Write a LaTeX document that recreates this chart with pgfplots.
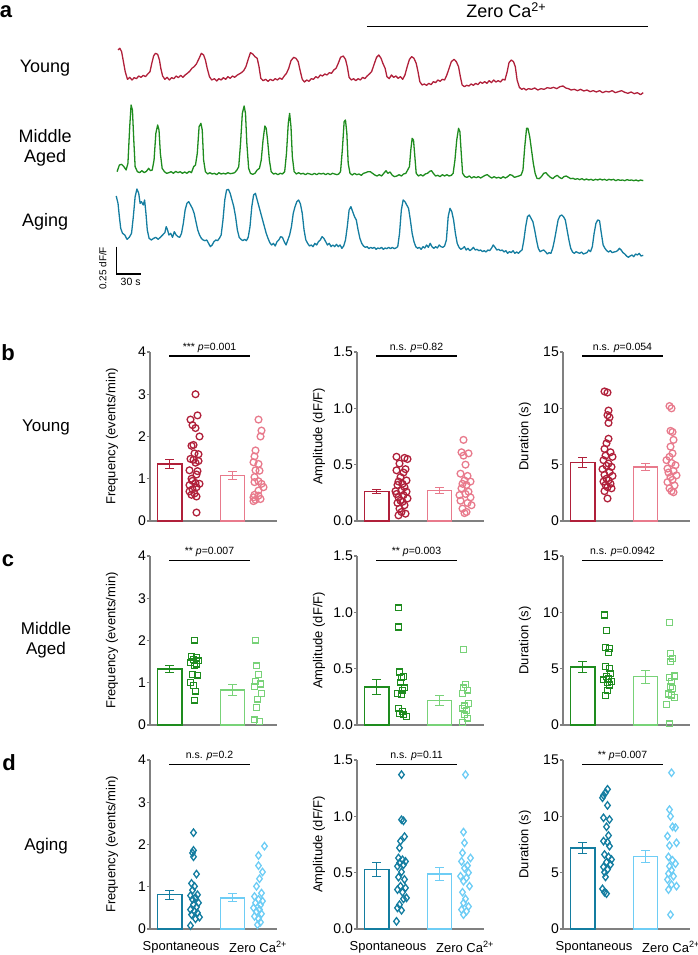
\documentclass[border=0pt]{standalone}
\usepackage{pgfplots}
\pgfplotsset{compat=1.18}
\usepackage{pgfplotstable}
\usepackage{fontspec}
\setmainfont{Liberation Sans}
\setsansfont{Liberation Sans}

\definecolor{ydk}{HTML}{B0203A}
\definecolor{ylt}{HTML}{E87A8C}
\definecolor{mdk}{HTML}{1E8C1E}
\definecolor{mlt}{HTML}{78D278}
\definecolor{adk}{HTML}{147DA0}
\definecolor{alt}{HTML}{6ECDF5}
\definecolor{axgray}{HTML}{808080}

\pgfplotsset{
 bp/.style={scale only axis, width=127pt, height=169pt, anchor=south west,
   xmin=0, xmax=127, ymin=0, clip=false,
   axis x line*=bottom, axis y line*=left,
   axis line style={draw=axgray, line width=1.5pt, -},
   xtick=\empty, tick align=outside, major tick length=3pt,
   ytick style={draw=axgray, line width=1.2pt},
   yticklabel style={font=\fontsize{14}{14}\selectfont, inner sep=1pt},
   every axis y label/.style={at={(axis description cs:0,0.5)}, xshift=-38pt, rotate=90, anchor=center, font=\fontsize{13}{13}\selectfont},
 },
 freq/.style={ymax=4, ytick={0,1,2,3,4}, yticklabels={0,1,2,3,4}, ylabel={Frequency (events/min)}},
 amp/.style={ymax=1.5, ytick={0,0.5,1,1.5}, yticklabels={0.0,0.5,1.0,1.5}, ylabel={Amplitude (dF/F)}},
 dur/.style={ymax=15, ytick={0,5,10,15}, yticklabels={0,5,10,15}, ylabel={Duration (s)}},
 bottomrow/.style={xtick={31,108}, xticklabels={Spontaneous, Zero Ca\textsuperscript{2+}}, xtick style={draw=none}, xticklabel style={font=\fontsize{13}{13}\selectfont, yshift=-6pt}},
 mcirc/.style={mark=o, mark size=3.4pt},
 msq/.style={mark=square, mark size=2.9pt},
 mdia/.style={mark=diamond, mark size=3.7pt},
}

% #1 dark, #2 light, #3 mark style, #4 m1, #5 e1, #6 m2, #7 e2, #8 dark table, #9 light table
\newcommand{\grp}[9]{%
 \addplot[ybar, bar width=24.5, bar shift=0pt, color=#1, draw=#1, fill=white, line width=1.4pt,
   error bars/.cd, y dir=both, y explicit, error mark=|, error bar style={#1, line width=1pt},
   error mark options={#1, mark size=4.5pt, line width=1pt}] coordinates {(19.7,#4) +- (0,#5)};
 \addplot[ybar, bar width=24.5, bar shift=0pt, color=#2, draw=#2, fill=white, line width=1.4pt,
   error bars/.cd, y dir=both, y explicit, error mark=|, error bar style={#2, line width=1pt},
   error mark options={#2, mark size=4.5pt, line width=1pt}] coordinates {(82.5,#6) +- (0,#7)};
 \addplot[only marks, color=#1, #3, mark options={solid, draw=#1, fill=none, line width=1.3pt}]
   table[x expr=\thisrow{o}+44.5, y=v] {#8};
 \addplot[only marks, color=#2, #3, mark options={solid, draw=#2, fill=none, line width=1.3pt}]
   table[x expr=\thisrow{o}+108.5, y=v] {#9};
}
\newcommand{\pann}[3]{%
 \addplot[black, line width=1.1pt] coordinates {(19,#1) (100,#1)};
 \node[anchor=base, inner sep=0pt, yshift=1.5pt, font=\fontsize{10.5}{10.5}\selectfont] at (axis cs:59.5,#2) {#3};
}

% ---------- scatter data (o = horizontal jitter, v = value)
\pgfplotstableread[row sep=\\]{o v\\ 1 3.0\\ 3 2.5\\ -4 2.4\\ -2 2.27\\ 1 2.2\\ 5 2.0\\ -1 1.8\\ -3 1.78\\ 0 1.6\\ 4 1.58\\ -4 1.47\\ -1 1.45\\ 4 1.42\\ 1 1.38\\ -5 1.2\\ 3 1.18\\ 2 1.1\\ -3 1.0\\ -2 0.95\\ 1 0.9\\ 5 0.88\\ -5 0.85\\ 2 0.8\\ -2 0.75\\ -5 0.7\\ 0 0.65\\ -3 0.62\\ 2 0.58\\ 2 0.2\\}\tYFd
\pgfplotstableread[row sep=\\]{o v\\ 0 2.40\\ 3 2.14\\ 2 2.0\\ -3 1.67\\ -4 1.53\\ -5 1.39\\ 0 1.35\\ -3 1.2\\ 1 1.19\\ -4 1.04\\ 0 0.94\\ -4 0.92\\ 3 0.88\\ 5 0.8\\ 0 0.72\\ -4 0.62\\ 0 0.60\\ -5 0.56\\ -3 0.5\\ -5 0.47\\ 2 0.52\\}\tYFl
\pgfplotstableread[row sep=\\]{o v\\ -5 0.57\\ 3 0.56\\ 6 0.55\\ -2 0.51\\ 4 0.46\\ -5 0.45\\ 2 0.43\\ -1 0.39\\ 5 0.36\\ -3 0.35\\ 1 0.33\\ -4 0.32\\ 3 0.30\\ 0 0.27\\ -6 0.265\\ 5 0.26\\ -5 0.24\\ 2 0.23\\ -3 0.21\\ 6 0.20\\ -1 0.18\\ 1 0.17\\ -4 0.16\\ 3 0.14\\ -2 0.11\\ 0 0.08\\ 4 0.065\\ -3 0.05\\}\tYAd
\pgfplotstableread[row sep=\\]{o v\\ -2 0.72\\ -4 0.61\\ 3 0.60\\ -2 0.58\\ 0 0.50\\ -5 0.42\\ 2 0.40\\ -1 0.36\\ 5 0.35\\ -3 0.33\\ 1 0.32\\ -4 0.29\\ 3 0.26\\ 0 0.24\\ -6 0.23\\ 5 0.21\\ -5 0.18\\ 2 0.16\\ 6 0.14\\ -3 0.11\\ 1 0.08\\ -1 0.07\\}\tYAl
\pgfplotstableread[row sep=\\]{o v\\ -3 11.5\\ 0 11.4\\ 1 9.8\\ 0 9.4\\ 2 9.2\\ 1 8.7\\ 1 7.3\\ -1 6.9\\ -3 6.4\\ 3 6.1\\ -2 5.8\\ 5 5.7\\ -4 5.4\\ 1 5.1\\ -1 4.9\\ 4 4.8\\ -5 4.6\\ 2 4.35\\ -3 4.1\\ 5 4.0\\ -1 3.75\\ 1 3.6\\ -4 3.5\\ 3 3.3\\ -2 3.2\\ 0 3.0\\ 4 2.9\\ -3 2.65\\ 0 2.0\\}\tYDd
\pgfplotstableread[row sep=\\]{o v\\ -2 10.2\\ 0 10.0\\ -1 8.0\\ 1 7.9\\ 2 7.2\\ -1 6.6\\ 1 6.0\\ -2 5.7\\ -5 5.4\\ 0 5.15\\ 4 4.95\\ -4 4.65\\ 2 4.45\\ -3 4.3\\ 5 4.05\\ -1 3.9\\ 1 3.65\\ -4 3.45\\ 3 3.15\\ -2 2.9\\ 0 2.65\\ 2 2.55\\}\tYDl

\pgfplotstableread[row sep=\\]{o v\\ 0 2.01\\ -3 1.63\\ 2 1.6\\ -1 1.55\\ 4 1.52\\ -4 1.47\\ 2 1.44\\ 0 1.4\\ -2 1.2\\ 3 1.18\\ -4 1.0\\ -1 0.93\\ 1 0.8\\ 0 0.59\\}\tMFd
\pgfplotstableread[row sep=\\]{o v\\ -3 2.01\\ -2 1.4\\ 0 1.2\\ -3 1.03\\ 2 0.97\\ -4 0.91\\ 3 0.75\\ -1 0.61\\ -2 0.42\\ -4 0.12\\ 1 0.08\\}\tMFl
\pgfplotstableread[row sep=\\]{o v\\ -3 1.04\\ -3 0.87\\ -2 0.47\\ 2 0.43\\ 0 0.42\\ -1 0.38\\ 3 0.33\\ 1 0.31\\ -4 0.28\\ 0 0.27\\ -3 0.15\\ 1 0.12\\ -2 0.10\\ 2 0.09\\ 5 0.075\\}\tMAd
\pgfplotstableread[row sep=\\]{o v\\ -2 0.67\\ 0 0.36\\ -2 0.33\\ 2 0.31\\ -3 0.28\\ 3 0.19\\ -1 0.17\\ -3 0.15\\ 1 0.13\\ -1 0.09\\ 2 0.06\\ -3 0.02\\}\tMAl
\pgfplotstableread[row sep=\\]{o v\\ -3 9.76\\ -1 8.37\\ -2 6.86\\ 2 6.8\\ 1 6.45\\ -2 5.18\\ 2 5.03\\ 3 4.59\\ -1 4.29\\ 1 4.14\\ -4 4.0\\ 4 3.85\\ 0 3.76\\ 2 3.55\\ 0 3.05\\ -2 2.6\\}\tMDd
\pgfplotstableread[row sep=\\]{o v\\ -2 9.1\\ -1 6.36\\ 1 5.9\\ -1 5.6\\ 3 4.35\\ -2 4.23\\ 0 3.85\\ -1 3.4\\ 1 3.25\\ -3 2.75\\ 0 2.66\\ 3 2.45\\ -5 1.83\\ -2 0.1\\}\tMDl

\pgfplotstableread[row sep=\\]{o v\\ -1 2.28\\ -1 1.86\\ -2 1.80\\ -1 1.71\\ 2 1.30\\ -3 1.08\\ 0 1.01\\ -2 0.92\\ 3 0.81\\ -4 0.79\\ 1 0.74\\ -2 0.70\\ 4 0.62\\ -1 0.58\\ 2 0.52\\ -4 0.46\\ 0 0.42\\ 3 0.38\\ -3 0.34\\ 5 0.28\\ 1 0.24\\ -4 0.08\\}\tAFd
\pgfplotstableread[row sep=\\]{o v\\ 6 1.96\\ 0 1.74\\ 0 1.5\\ 4 1.35\\ 1 1.19\\ -2 1.01\\ 3 0.85\\ -4 0.77\\ 0 0.70\\ 4 0.66\\ -3 0.62\\ 2 0.57\\ -5 0.5\\ 1 0.46\\ -2 0.41\\ 3 0.36\\ -4 0.30\\ 0 0.24\\ 2 0.16\\ -1 0.10\\}\tAFl
\pgfplotstableread[row sep=\\]{o v\\ 0 1.37\\ 0 0.97\\ 2 0.96\\ 3 0.82\\ -1 0.78\\ -2 0.72\\ -3 0.63\\ 1 0.615\\ 4 0.6\\ -2 0.587\\ 2 0.57\\ -4 0.557\\ 0 0.507\\ -3 0.46\\ 3 0.44\\ -1 0.38\\ 4 0.365\\ -4 0.35\\ 1 0.326\\ 5 0.276\\ 2 0.267\\ -2 0.216\\ -4 0.187\\ 0 0.166\\ -5 0.068\\}\tAAd
\pgfplotstableread[row sep=\\]{o v\\ 0 1.37\\ -2 0.86\\ -1 0.765\\ -3 0.676\\ 5 0.63\\ -4 0.6\\ 2 0.563\\ -1 0.54\\ 3 0.5\\ -5 0.468\\ 1 0.454\\ -2 0.424\\ 4 0.38\\ -3 0.326\\ 0 0.267\\ -2 0.231\\ 3 0.2\\ -4 0.172\\ 1 0.157\\ -2 0.127\\}\tAAl
\pgfplotstableread[row sep=\\]{o v\\ 0 12.4\\ -2 12.1\\ -4 11.86\\ -5 11.65\\ 0 10.97\\ -4 9.87\\ 2 9.72\\ -1 9.07\\ 1 8.3\\ -4 7.8\\ 0 7.7\\ 2 7.35\\ -3 6.61\\ 1 6.4\\ 4 6.17\\ -1 5.93\\ 3 5.72\\ -4 5.51\\ 0 5.28\\ -3 5.04\\ -2 4.62\\ -5 3.56\\ -3 3.26\\ -1 3.14\\}\tADd
\pgfplotstableread[row sep=\\]{o v\\ 0 13.87\\ -2 10.6\\ -1 10.0\\ 1 9.07\\ 4 9.0\\ -4 8.24\\ 5 7.65\\ -2 7.4\\ -3 6.4\\ 1 6.1\\ 4 5.8\\ -2 5.57\\ 0 5.22\\ -3 4.92\\ 2 4.68\\ -4 4.39\\ 0 3.94\\ 5 3.8\\ -3 3.5\\ -1 1.27\\}\tADl

\begin{document}
\begin{tikzpicture}
\useasboundingbox (0,0) rectangle (698pt,955pt);

% ---------------- panel a: traces
\begin{axis}[at={(0pt,655pt)}, anchor=south west, scale only axis, width=698pt, height=300pt,
  xmin=0, xmax=1549.6, ymin=0, ymax=900, y dir=reverse, hide axis, clip=false]
\addplot[color=ydk, line width=1.3pt, line join=round] coordinates {(262,150)(266,145)(270,155)(274,185)(278,215)(283,238)(288,232)(293,240)(298,233)(303,236)(308,228)(313,232)(318,226)(323,230)(328,222)(333,215)(337,190)(341,168)(345,160)(350,163)(354,180)(357,205)(361,228)(366,238)(371,232)(376,240)(381,233)(386,236)(391,228)(396,233)(401,226)(406,232)(411,225)(416,220)(421,214)(426,205)(431,200)(436,192)(441,178)(447,160)(452,165)(456,180)(460,205)(465,230)(470,240)(476,236)(481,243)(486,236)(491,240)(496,233)(501,238)(506,230)(511,235)(516,228)(521,232)(526,226)(531,222)(536,218)(541,212)(546,200)(551,178)(556,158)(561,162)(566,170)(571,175)(575,200)(579,235)(584,242)(590,238)(595,244)(600,238)(606,242)(611,236)(616,240)(621,234)(626,238)(631,228)(636,220)(641,205)(646,182)(652,172)(657,175)(662,185)(666,210)(671,238)(676,246)(681,240)(686,244)(691,236)(696,238)(701,230)(706,234)(711,225)(716,228)(721,222)(726,225)(731,218)(736,220)(741,210)(746,205)(751,190)(756,172)(762,168)(767,178)(771,200)(775,232)(780,240)(785,236)(790,242)(795,236)(800,240)(805,232)(810,236)(815,228)(820,222)(825,215)(830,195)(836,172)(841,165)(846,175)(850,190)(855,205)(859,230)(864,236)(869,225)(874,232)(879,228)(884,235)(889,230)(894,238)(899,225)(904,200)(909,178)(914,170)(919,175)(924,190)(928,215)(932,245)(937,255)(942,252)(947,256)(952,250)(957,254)(962,245)(967,248)(972,240)(977,244)(982,238)(987,240)(992,225)(997,205)(1002,185)(1008,178)(1013,185)(1018,200)(1022,230)(1026,255)(1031,260)(1036,256)(1041,258)(1046,252)(1051,256)(1056,250)(1061,254)(1066,246)(1071,250)(1076,245)(1081,250)(1086,242)(1091,248)(1096,240)(1101,246)(1106,242)(1111,246)(1116,238)(1121,240)(1126,215)(1130,188)(1135,180)(1140,185)(1144,200)(1148,240)(1153,262)(1158,268)(1163,265)(1168,270)(1173,266)(1180,268)(1187,264)(1194,270)(1201,266)(1208,268)(1215,263)(1222,265)(1229,262)(1236,266)(1243,260)(1250,258)(1256,264)(1262,266)(1268,270)(1275,268)(1282,272)(1289,268)(1296,273)(1303,270)(1310,275)(1317,272)(1324,276)(1331,272)(1338,278)(1345,274)(1352,276)(1359,272)(1366,278)(1373,275)(1380,272)(1387,277)(1394,280)(1401,276)(1408,281)(1415,278)(1422,284)(1428,278)};
\addplot[color=mdk, line width=1.3pt, line join=round] coordinates {(260,515)(265,495)(270,493)(275,500)(280,510)(284,490)(288,380)(291,315)(294,330)(297,420)(300,500)(305,515)(310,518)(315,512)(320,518)(325,514)(330,505)(334,512)(338,510)(342,480)(346,400)(350,375)(353,390)(356,460)(360,505)(365,515)(370,520)(375,518)(380,515)(385,520)(390,514)(395,518)(400,515)(405,520)(410,516)(415,520)(420,514)(425,518)(430,500)(434,495)(438,460)(442,380)(446,370)(449,390)(452,480)(456,515)(461,522)(466,518)(471,522)(476,520)(481,524)(486,518)(491,522)(496,520)(501,522)(506,518)(511,521)(516,520)(521,518)(526,510)(530,500)(534,430)(538,340)(542,318)(545,340)(548,430)(552,505)(556,520)(561,523)(566,520)(571,510)(576,505)(580,480)(584,420)(588,378)(591,385)(594,420)(598,480)(602,515)(607,522)(612,520)(617,524)(622,520)(627,522)(632,515)(636,460)(640,370)(643,340)(646,380)(649,470)(653,515)(658,522)(663,518)(668,522)(673,520)(678,524)(683,520)(688,522)(693,524)(698,520)(703,524)(708,520)(713,522)(718,520)(723,524)(728,520)(733,524)(738,520)(743,522)(748,524)(752,522)(756,515)(760,450)(764,365)(767,360)(770,400)(773,490)(777,520)(782,525)(787,520)(792,524)(797,522)(802,526)(807,520)(812,518)(817,515)(822,515)(827,520)(832,525)(837,528)(842,524)(847,528)(852,520)(857,512)(861,520)(866,516)(871,526)(876,530)(881,528)(886,524)(891,528)(896,522)(901,520)(905,510)(909,500)(912,450)(915,415)(918,420)(921,470)(924,520)(929,528)(934,524)(939,528)(944,522)(949,520)(954,514)(958,512)(962,520)(967,528)(972,526)(977,530)(982,524)(987,528)(992,524)(997,528)(1002,526)(1006,520)(1010,480)(1014,420)(1018,385)(1021,395)(1024,460)(1027,520)(1032,530)(1037,532)(1042,528)(1047,534)(1052,530)(1057,533)(1062,530)(1067,534)(1072,530)(1077,526)(1082,524)(1087,530)(1092,534)(1097,530)(1102,534)(1107,532)(1112,535)(1117,530)(1122,534)(1127,530)(1132,524)(1137,526)(1142,532)(1147,530)(1152,528)(1157,525)(1161,510)(1165,440)(1169,385)(1172,385)(1176,410)(1180,450)(1184,490)(1188,520)(1192,535)(1197,536)(1202,530)(1207,520)(1212,518)(1217,526)(1222,532)(1227,536)(1232,530)(1237,526)(1242,532)(1247,536)(1252,530)(1257,528)(1262,532)(1267,536)(1272,535)(1277,538)(1282,536)(1287,539)(1292,536)(1297,540)(1302,537)(1307,540)(1312,538)(1317,541)(1322,538)(1327,540)(1332,537)(1337,540)(1342,538)(1347,541)(1352,538)(1357,540)(1362,538)(1367,542)(1372,539)(1377,541)(1382,540)(1387,542)(1392,539)(1397,541)(1402,540)(1407,542)(1412,540)(1417,543)(1422,540)(1428,542)};
\addplot[color=adk, line width=1.3pt, line join=round] coordinates {(258,588)(262,610)(265,650)(268,685)(272,700)(277,705)(282,718)(287,712)(292,700)(296,650)(300,590)(304,567)(308,580)(311,610)(314,605)(318,615)(321,600)(324,640)(327,690)(331,715)(336,720)(341,715)(346,712)(351,718)(356,712)(361,705)(366,698)(369,680)(372,690)(375,705)(379,700)(383,712)(387,695)(391,705)(395,710)(399,712)(403,700)(407,670)(411,630)(415,610)(419,605)(423,615)(427,625)(431,640)(435,665)(439,690)(443,705)(447,715)(451,720)(455,722)(459,720)(463,730)(467,740)(471,735)(475,725)(479,720)(483,722)(487,715)(491,705)(495,660)(499,600)(503,570)(507,568)(511,580)(515,600)(519,620)(523,650)(527,690)(531,712)(535,718)(539,722)(543,718)(547,722)(551,712)(555,680)(559,620)(563,585)(567,580)(571,600)(575,620)(579,640)(583,660)(587,680)(591,700)(595,715)(599,728)(603,735)(607,730)(611,738)(615,725)(619,720)(623,710)(627,712)(631,725)(635,735)(639,720)(643,705)(647,680)(651,640)(655,620)(659,605)(663,600)(667,612)(671,640)(675,690)(679,720)(683,730)(687,738)(691,735)(695,740)(699,730)(703,735)(707,725)(711,720)(715,710)(719,715)(723,725)(727,735)(731,730)(735,740)(739,735)(743,740)(747,733)(751,740)(755,735)(759,745)(763,738)(767,720)(771,680)(775,630)(779,620)(783,635)(787,650)(791,660)(795,690)(799,715)(803,730)(807,738)(811,742)(815,740)(819,746)(823,742)(827,745)(831,742)(835,748)(839,744)(843,746)(847,742)(851,748)(855,744)(859,746)(863,742)(867,746)(871,742)(875,746)(879,744)(883,740)(887,700)(891,630)(895,600)(899,605)(903,615)(907,625)(911,660)(915,700)(919,725)(923,740)(927,745)(931,742)(935,748)(939,740)(943,744)(947,735)(951,742)(955,730)(959,740)(963,745)(967,740)(971,744)(975,735)(979,740)(983,742)(987,738)(991,720)(995,650)(999,625)(1003,635)(1007,660)(1011,700)(1015,730)(1019,742)(1023,748)(1027,745)(1031,740)(1035,750)(1039,745)(1043,752)(1047,748)(1051,742)(1055,750)(1059,748)(1063,752)(1067,750)(1071,755)(1075,752)(1079,756)(1083,750)(1087,752)(1091,745)(1095,735)(1099,742)(1103,750)(1107,748)(1111,752)(1115,750)(1119,756)(1123,752)(1127,760)(1131,755)(1135,758)(1139,752)(1143,760)(1147,756)(1151,760)(1155,754)(1159,750)(1163,720)(1167,680)(1171,650)(1175,645)(1179,655)(1183,665)(1187,690)(1191,720)(1195,745)(1199,755)(1203,752)(1207,750)(1211,755)(1215,762)(1219,758)(1223,760)(1227,745)(1231,720)(1235,690)(1239,660)(1243,648)(1247,645)(1251,650)(1255,660)(1259,690)(1263,720)(1267,745)(1271,756)(1275,760)(1279,755)(1283,758)(1287,760)(1291,756)(1295,762)(1299,760)(1303,758)(1307,750)(1311,755)(1315,740)(1319,700)(1323,670)(1327,660)(1331,662)(1335,700)(1339,735)(1343,745)(1347,752)(1351,756)(1355,752)(1359,758)(1363,756)(1367,755)(1371,752)(1375,745)(1379,750)(1383,758)(1387,762)(1391,768)(1395,772)(1399,768)(1403,765)(1407,770)(1411,762)(1415,765)(1419,760)(1423,768)(1428,766)};
% Zero Ca bar and scale bar
\addplot[black, line width=1.2pt] coordinates {(815,80) (1438,80)};
\addplot[black, line width=1.1pt] coordinates {(258,740) (258,822) (313,822)};
\node[anchor=base west, inner sep=0pt, font=\fontsize{18}{18}\selectfont] at (axis cs:1035,52) {Zero Ca\textsuperscript{2+}};
\node[font=\fontsize{18}{18}\selectfont] at (axis cs:100,205) {Young};
\node[font=\fontsize{18}{20}\selectfont, align=center] at (axis cs:100,445) {Middle\\Aged};
\node[font=\fontsize{18}{18}\selectfont] at (axis cs:100,665) {Aging};
\node[rotate=90, font=\fontsize{10}{10}\selectfont, inner sep=0pt] at (axis cs:228,805) {0.25 dF/F};
\node[font=\fontsize{10.5}{10.5}\selectfont, inner sep=0pt] at (axis cs:290,847) {30 s};
\end{axis}

% ---------------- panel letters and row labels
\node[font=\fontsize{22}{22}\selectfont\bfseries, inner sep=0pt] at (6pt,943pt) {a};
\node[font=\fontsize{22}{22}\selectfont\bfseries, inner sep=0pt] at (8pt,602pt) {b};
\node[font=\fontsize{22}{22}\selectfont\bfseries, inner sep=0pt] at (8pt,394pt) {c};
\node[font=\fontsize{22}{22}\selectfont\bfseries, inner sep=0pt] at (9pt,192pt) {d};
\node[font=\fontsize{17}{17}\selectfont] at (46pt,528pt) {Young};
\node[font=\fontsize{17}{20}\selectfont, align=center] at (46pt,315pt) {Middle\\Aged};
\node[font=\fontsize{17}{17}\selectfont] at (46pt,109pt) {Aging};

% ---------------- row b: Young
\begin{axis}[bp, freq, at={(150pt,434pt)}]
\grp{ydk}{ylt}{mcirc}{1.35}{0.115}{1.07}{0.09}{\tYFd}{\tYFl}
\pann{3.905}{4}{*** \textit{p}=0.001}
\end{axis}
\begin{axis}[bp, amp, at={(357pt,434pt)}]
\grp{ydk}{ylt}{mcirc}{0.26}{0.02}{0.27}{0.03}{\tYAd}{\tYAl}
\pann{1.464}{1.5}{n.s. \textit{p}=0.82}
\end{axis}
\begin{axis}[bp, dur, at={(563pt,434pt)}]
\grp{ydk}{ylt}{mcirc}{5.18}{0.45}{4.8}{0.33}{\tYDd}{\tYDl}
\pann{14.64}{15}{n.s. \textit{p}=0.054}
\end{axis}

% ---------------- row c: Middle Aged
\begin{axis}[bp, freq, at={(150pt,230pt)}]
\grp{mdk}{mlt}{msq}{1.325}{0.075}{0.83}{0.135}{\tMFd}{\tMFl}
\pann{3.89}{4}{** \textit{p}=0.007}
\end{axis}
\begin{axis}[bp, amp, at={(357pt,230pt)}]
\grp{mdk}{mlt}{msq}{0.337}{0.07}{0.216}{0.045}{\tMAd}{\tMAl}
\pann{1.458}{1.5}{** \textit{p}=0.003}
\end{axis}
\begin{axis}[bp, dur, at={(563pt,230pt)}]
\grp{mdk}{mlt}{msq}{5.15}{0.5}{4.29}{0.59}{\tMDd}{\tMDl}
\pann{14.58}{15}{n.s. \textit{p}=0.0942}
\end{axis}

% ---------------- row d: Aging
\begin{axis}[bp, freq, bottomrow, at={(150pt,26pt)}]
\grp{adk}{alt}{mdia}{0.81}{0.11}{0.735}{0.095}{\tAFd}{\tAFl}
\pann{3.9}{4}{n.s. \textit{p}=0.2}
\end{axis}
\begin{axis}[bp, amp, bottomrow, at={(357pt,26pt)}]
\grp{adk}{alt}{mdia}{0.528}{0.06}{0.489}{0.056}{\tAAd}{\tAAl}
\pann{1.462}{1.5}{n.s. \textit{p}=0.11}
\end{axis}
\begin{axis}[bp, dur, bottomrow, at={(563pt,26pt)}]
\grp{adk}{alt}{mdia}{7.2}{0.5}{6.43}{0.5}{\tADd}{\tADl}
\pann{14.62}{15}{** \textit{p}=0.007}
\end{axis}
\end{tikzpicture}
\end{document}
